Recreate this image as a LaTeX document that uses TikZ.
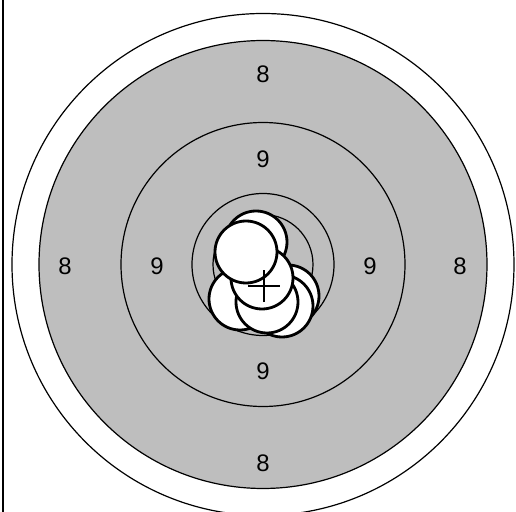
\documentclass[tikz,border=0pt]{standalone}
\usepackage{fontspec}
\setmainfont{Liberation Sans}
\definecolor{ringgray}{RGB}{190,190,190}

\begin{document}
\begin{tikzpicture}[x=0.025cm,y=-0.025cm,
  ring/.style={line width=0.3mm, color=black},
  hole/.style={line width=0.7mm, draw=black, fill=white},
  score/.style={font=\fontsize{17}{19}\selectfont}]
\useasboundingbox (0,0) rectangle (516,512);
\clip (0,0) rectangle (516,512);
\coordinate (c) at (263,264.5);
\draw[line width=0.3mm, color=black] (3,0) -- (3,512);
\draw[ring, fill=white] (c) circle (251);
\draw[ring, fill=ringgray] (c) circle (224);
\draw[ring] (c) circle (142);
\draw[ring] (c) circle (71);
\draw[ring] (c) circle (50);
\draw (263,74) node[score] (top8) {8};
\draw (263,463) node[score] (bot8) {8};
\draw (65,266) node[score] (left8) {8};
\draw (460,266) node[score] (right8) {8};
\draw (263,159) node[score] (top9) {9};
\draw (263,371) node[score] (bot9) {9};
\draw (157,266) node[score] (left9) {9};
\draw (370,266) node[score] (right9) {9};
\draw[hole] (288,296) circle (31);
\draw[hole] (282,306) circle (31);
\draw[hole] (240,299) circle (31);
\draw[hole] (267,302) circle (31);
\draw[hole] (256,242) circle (31);
\draw[hole] (262,278) circle (31);
\draw[hole] (246,252) circle (31);
\coordinate (mpi) at (264,286);
\draw[line width=0.35mm, color=black] ([xshift=-0.4cm]mpi) -- ([xshift=0.4cm]mpi);
\draw[line width=0.35mm, color=black] ([yshift=-0.4cm]mpi) -- ([yshift=0.4cm]mpi);
\end{tikzpicture}
\end{document}
